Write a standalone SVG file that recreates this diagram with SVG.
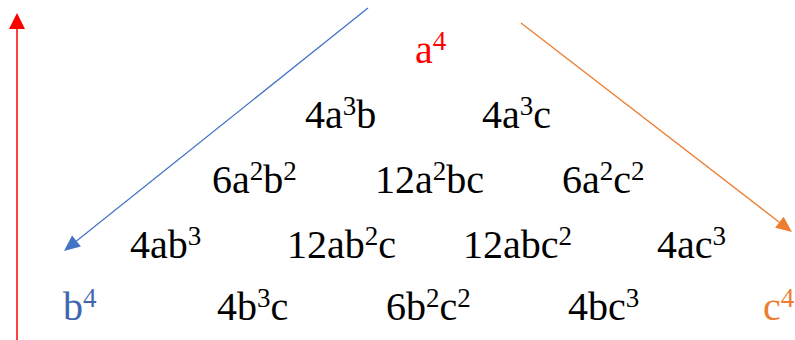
<svg xmlns="http://www.w3.org/2000/svg" width="795" height="340" viewBox="0 0 795 340">
<g id="connectors">
<line x1="17" y1="340" x2="17" y2="28" stroke="#FF0000" stroke-width="1.5"/>
<polygon points="17,13 9,29 25,29" fill="#FF0000"/>
<line x1="368" y1="8" x2="76.5" y2="241" stroke="#4472C4" stroke-width="1.3"/>
<polygon points="64,251 80.9,246.5 72.1,235.5" fill="#4472C4"/>
<line x1="521" y1="23" x2="779.3" y2="222.2" stroke="#ED7D31" stroke-width="1.3"/>
<polygon points="792,232 775.1,227.8 783.6,216.7" fill="#ED7D31"/>
</g>
<g font-family="Liberation Serif, serif" font-size="40">
<g id="n-a4"><text font-family="Liberation Serif" font-size="40" x="415" y="63" fill="#FF0000">a<tspan font-size="27" dy="-13">4</tspan></text></g>
<g id="n-4a3b"><text font-family="Liberation Serif" font-size="40" x="305" y="128">4a<tspan font-size="27" dy="-13">3</tspan><tspan dy="13">b</tspan></text></g>
<g id="n-4a3c"><text font-family="Liberation Serif" font-size="40" x="482" y="128">4a<tspan font-size="27" dy="-13">3</tspan><tspan dy="13">c</tspan></text></g>
<g id="n-6a2b2"><text font-family="Liberation Serif" font-size="40" x="212" y="193">6a<tspan font-size="27" dy="-13">2</tspan><tspan dy="13">b</tspan><tspan font-size="27" dy="-13">2</tspan></text></g>
<g id="n-12a2bc"><text font-family="Liberation Serif" font-size="40" x="375" y="193">12a<tspan font-size="27" dy="-13">2</tspan><tspan dy="13">bc</tspan></text></g>
<g id="n-6a2c2"><text font-family="Liberation Serif" font-size="40" x="562" y="193">6a<tspan font-size="27" dy="-13">2</tspan><tspan dy="13">c</tspan><tspan font-size="27" dy="-13">2</tspan></text></g>
<g id="n-4ab3"><text font-family="Liberation Serif" font-size="40" x="130" y="258">4ab<tspan font-size="27" dy="-13">3</tspan></text></g>
<g id="n-12ab2c"><text font-family="Liberation Serif" font-size="40" x="287" y="258">12ab<tspan font-size="27" dy="-13">2</tspan><tspan dy="13">c</tspan></text></g>
<g id="n-12abc2"><text font-family="Liberation Serif" font-size="40" x="463" y="258">12abc<tspan font-size="27" dy="-13">2</tspan></text></g>
<g id="n-4ac3"><text font-family="Liberation Serif" font-size="40" x="657" y="258">4ac<tspan font-size="27" dy="-13">3</tspan></text></g>
<g id="n-b4"><text font-family="Liberation Serif" font-size="40" x="63" y="320" fill="#3F66B0">b<tspan font-size="27" dy="-13">4</tspan></text></g>
<g id="n-4b3c"><text font-family="Liberation Serif" font-size="40" x="217" y="320">4b<tspan font-size="27" dy="-13">3</tspan><tspan dy="13">c</tspan></text></g>
<g id="n-6b2c2"><text font-family="Liberation Serif" font-size="40" x="386" y="320">6b<tspan font-size="27" dy="-13">2</tspan><tspan dy="13">c</tspan><tspan font-size="27" dy="-13">2</tspan></text></g>
<g id="n-4bc3"><text font-family="Liberation Serif" font-size="40" x="568" y="320">4bc<tspan font-size="27" dy="-13">3</tspan></text></g>
<g id="n-c4"><text font-family="Liberation Serif" font-size="40" x="763" y="320" fill="#ED7D31">c<tspan font-size="27" dy="-13">4</tspan></text></g>
</g>
</svg>
